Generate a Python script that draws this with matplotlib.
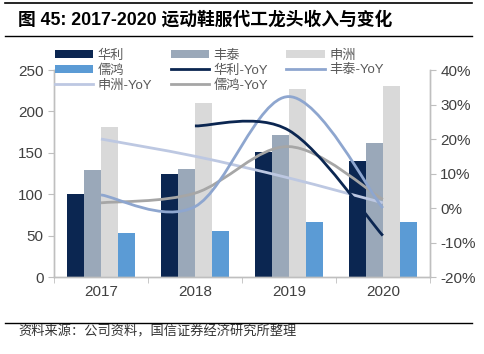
import matplotlib as mpl
mpl.use("Agg")
import matplotlib.pyplot as plt
import numpy as np
from matplotlib.path import Path
from matplotlib.patches import PathPatch, Patch
from matplotlib.lines import Line2D

plt.rcParams["font.family"] = ["Liberation Sans", "Noto Sans CJK SC"]

years = ["2017", "2018", "2019", "2020"]
names = ["华利", "丰泰", "申洲", "儒鸿"]
revenue = {
    "华利": [100, 124, 151, 140],
    "丰泰": [129, 130, 172, 162],
    "申洲": [181, 210, 227, 231],
    "儒鸿": [53, 56, 66, 66],
}
# YoY growth in %, None where not available
yoy = {
    "华利": [None, 23.8, 22.5, -8.0],
    "丰泰": [3.8, 0.4, 32.3, 0.0],
    "申洲": [20.0, 15.0, 8.7, 1.5],
    "儒鸿": [1.5, 4.3, 17.8, 2.5],
}

BAR_C = {"华利": "#0B2651", "丰泰": "#9AA8B9", "申洲": "#D9D9D9", "儒鸿": "#5B9BD5"}
LINE_C = {"华利": "#0B2651", "丰泰": "#8EA6CF", "申洲": "#BDC8E2", "儒鸿": "#A6A6A6"}
AX_C = "#BFBFBF"
TXT_C = "#404040"


def smooth_path(xs, ys):
    # Catmull-Rom style Bezier control points (like Excel smoothed lines)
    pts = np.column_stack([xs, ys])
    n = len(pts)
    verts = [pts[0]]
    codes = [Path.MOVETO]
    for i in range(n - 1):
        p0 = pts[i - 1] if i > 0 else pts[i]
        p1 = pts[i]
        p2 = pts[i + 1]
        p3 = pts[i + 2] if i + 2 < n else pts[i + 1]
        verts += [p1 + (p2 - p0) / 6, p2 - (p3 - p1) / 6, p2]
        codes += [Path.CURVE4] * 3
    return Path(verts, codes)


fig = plt.figure(figsize=(4.84, 3.54), dpi=100)
ax = fig.add_axes([0.1116, 0.2175, 0.7764, 0.5847])
ax2 = ax.twinx()

x = np.arange(len(years))
w = 0.18
for k, nm in enumerate(names):
    ax.bar(x + (k - 1.5) * w, revenue[nm], width=w, color=BAR_C[nm], zorder=2)

for nm in ["申洲", "儒鸿", "丰泰", "华利"]:
    xs = [xi for xi, v in zip(x, yoy[nm]) if v is not None]
    ys = [v for v in yoy[nm] if v is not None]
    ax2.add_patch(PathPatch(smooth_path(xs, ys), fill=False,
                            edgecolor=LINE_C[nm], lw=2.0, zorder=3))

ax.set_xlim(-0.5, 3.5)
ax.set_ylim(0, 250)
ax.set_yticks(np.arange(0, 251, 50))
ax2.set_ylim(-20, 40)
ax2.set_yticks(np.arange(-20, 41, 10))
ax2.set_yticklabels([f"{v}%" for v in range(-20, 41, 10)])

ax.set_xticks(x)
ax.set_xticklabels(years)
ax.set_xticks(np.arange(-0.5, 3.6, 1), minor=True)
ax.tick_params(axis="x", which="major", length=0, pad=6, labelsize=11, labelcolor=TXT_C)
ax.tick_params(axis="x", which="minor", length=4, color=AX_C, direction="out")
ax.tick_params(axis="y", length=4, color=AX_C, labelsize=11, labelcolor=TXT_C)
ax2.tick_params(axis="y", length=4, color=AX_C, labelsize=11, labelcolor=TXT_C)

for a in (ax, ax2):
    a.spines["top"].set_visible(False)
    for s in ("left", "right", "bottom"):
        a.spines[s].set_color(AX_C)
        a.spines[s].set_linewidth(1.0)
ax.set_zorder(ax2.get_zorder() - 1)
ax.patch.set_visible(False)

# legend, filled column-wise in 3 columns
h = {nm: Patch(facecolor=BAR_C[nm], label=nm) for nm in names}
hl = {nm: Line2D([0], [0], color=LINE_C[nm], lw=2.0, label=f"{nm}-YoY") for nm in names}
handles = [h["华利"], h["儒鸿"], hl["申洲"],
           h["丰泰"], hl["华利"], hl["儒鸿"],
           h["申洲"], hl["丰泰"]]
leg = fig.legend(handles=handles, ncol=3, frameon=False,
                 loc="upper left", bbox_to_anchor=(0.113, 0.86),
                 borderpad=0, borderaxespad=0,
                 fontsize=9.5, handlelength=2.9, handleheight=0.5,
                 columnspacing=1.4, labelspacing=0.2, handletextpad=0.35)
for t in leg.get_texts():
    t.set_color("#595959")

# header / footer
fig.text(0.037, 0.943, "图 45: 2017-2020 运动鞋服代工龙头收入与变化",
         fontsize=12.8, fontweight="bold", color="black",
         va="center", ha="left")
for yy, lw in ((0.991, 1.2), (0.898, 1.0), (0.088, 1.0)):
    fig.add_artist(Line2D([0.01, 0.975], [yy, yy], color="black", lw=lw))
fig.text(0.037, 0.062, "资料来源：公司资料，国信证券经济研究所整理",
         fontsize=9.5, color="#333333", family=["Noto Sans CJK SC"],
         va="center", ha="left")

fig.savefig("out.png", dpi=100)
